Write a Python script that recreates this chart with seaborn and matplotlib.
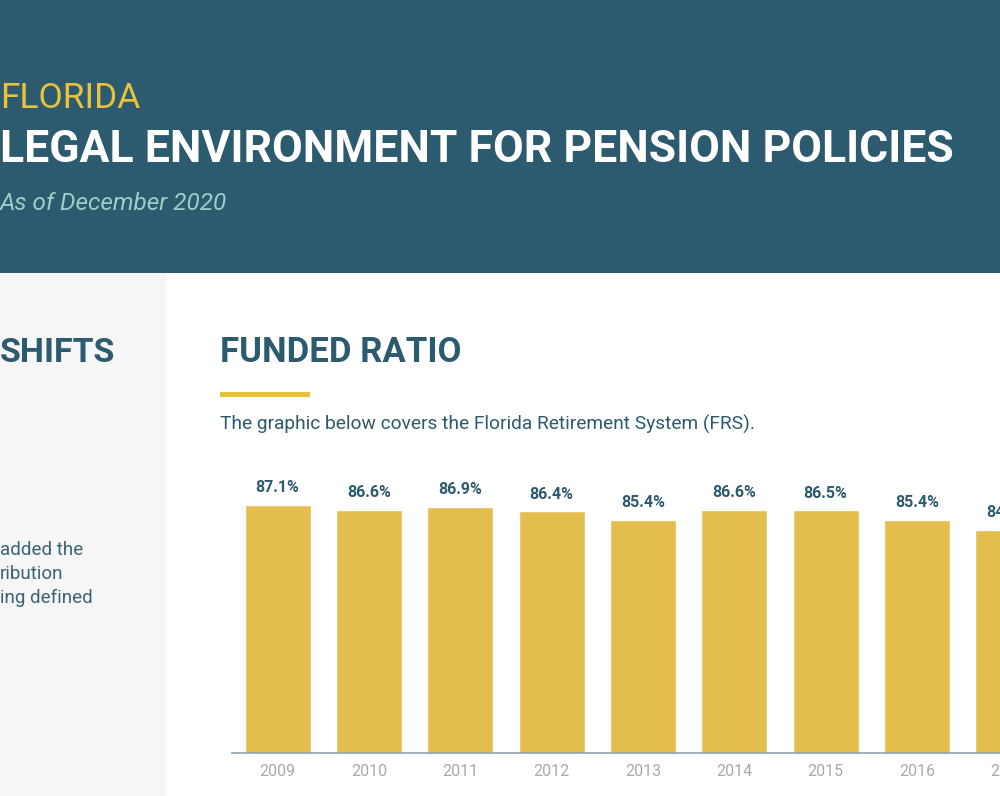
import pandas as pd
import numpy as np
import matplotlib.pyplot as plt
import seaborn as sns
from matplotlib.patches import Rectangle

# datos del grafico (FRS funded ratio)
anios = ['2009', '2010', '2011', '2012', '2013', '2014', '2015', '2016', '2017']
funded_ratio = [87.1, 86.6, 86.9, 86.4, 85.4, 86.6, 86.5, 85.4, 84.3]

estado = 'FLORIDA'
titulo = 'LEGAL ENVIRONMENT FOR PENSION POLICIES'
fecha = 'As of December 2020'
seccion = 'FUNDED RATIO'
nota = 'The graphic below covers the Florida Retirement System (FRS).'
lateral_titulo = 'SHIFTS'
lateral_lineas = ['added the', 'ribution', 'ing defined']

AZUL = '#2c5a6e'
AMARILLO = '#e9c13a'
BARRA = '#e4bd4f'

W, H = 1000, 796

sns.set_style('white')
plt.rcParams['font.family'] = ['Roboto', 'DejaVu Sans']

fig = plt.figure(figsize=(W / 100, H / 100), dpi=100)
fig.patch.set_facecolor('white')


def px(x, y):
    # pixeles -> coordenadas de figura
    return x / W, 1 - y / H


# fondo: cabecera y barra lateral
fig.patches.append(Rectangle((0, 1 - 273 / H), 1, 273 / H, transform=fig.transFigure,
                             facecolor=AZUL, edgecolor='none', zorder=0))
fig.patches.append(Rectangle((0, 0), 166 / W, 1 - 273 / H, transform=fig.transFigure,
                             facecolor='#f6f6f6', edgecolor='none', zorder=0))
fig.patches.append(Rectangle(px(220, 397), 90 / W, 5 / H, transform=fig.transFigure,
                             facecolor=AMARILLO, edgecolor='none', zorder=0))

# textos de cabecera
fig.text(*px(0, 108), estado, color=AMARILLO, fontsize=25.5, fontweight='normal',
         va='baseline', ha='left')
fig.text(*px(0, 162), titulo, color='white', fontsize=32, fontweight='bold',
         va='baseline', ha='left')
fig.text(*px(0, 210), fecha, color='#9ccfc8', fontsize=17.5, style='italic',
         va='baseline', ha='left')

# seccion
fig.text(*px(220, 362), seccion, color=AZUL, fontsize=25, fontweight='bold',
         va='baseline', ha='left')
fig.text(*px(220, 430), nota, color=AZUL, fontsize=13.8, va='baseline', ha='left')

# barra lateral
fig.text(*px(0, 362), lateral_titulo, color=AZUL, fontsize=24.5, fontweight='bold',
         va='baseline', ha='left')
for i, linea in enumerate(lateral_lineas):
    fig.text(*px(0, 555 + i * 24), linea, color='#3b6374', fontsize=13.5,
             va='baseline', ha='left')

# grafico de barras
y0 = 753.3
y1 = 470
ax = fig.add_axes([232 / W, (H - y0) / H, 822 / W, (y0 - y1) / H])
ax.set_facecolor('none')
df = pd.DataFrame({'anio': anios, 'ratio': funded_ratio})
sns.barplot(data=df, x='anio', y='ratio', color=BARRA, saturation=1, width=0.72, ax=ax)
ax.set_xlim(-0.5, 8.5)
ax.set_ylim(58.9, 91.1)
for c in ax.containers:
    ax.bar_label(c, labels=[f'{v:.1f}%' for v in funded_ratio], padding=7,
                 color=AZUL, fontsize=11.5, fontweight='bold')

sns.despine(ax=ax, left=True)
ax.spines['bottom'].set_color('#8fa3b0')
ax.spines['bottom'].set_linewidth(1.2)
ax.set_yticks([])
ax.set_xlabel('')
ax.set_ylabel('')
ax.tick_params(axis='x', length=0, pad=8, labelsize=11.5, labelcolor='#a9a9a9')

fig.savefig('out.png', dpi=100)
